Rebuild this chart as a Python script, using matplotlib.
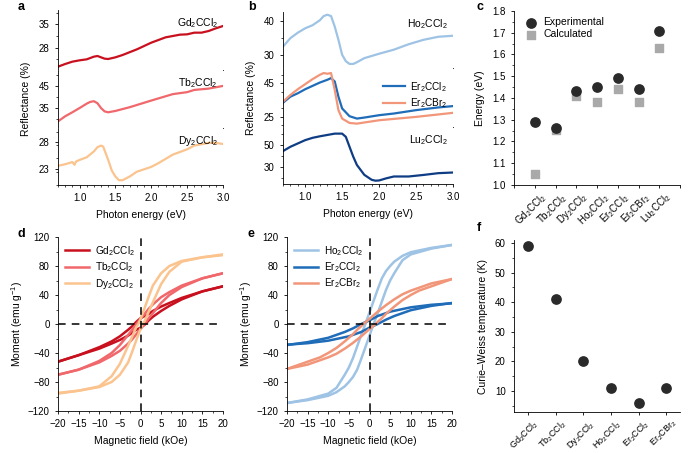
import matplotlib
matplotlib.use("Agg")
import matplotlib.pyplot as plt
import matplotlib.transforms as mtransforms
from matplotlib.ticker import MultipleLocator

plt.rcParams['font.family'] = ['Liberation Sans', 'DejaVu Sans']
plt.rcParams['mathtext.default'] = 'regular'
plt.rcParams['font.size'] = 7
plt.rcParams['axes.linewidth'] = 0.6
plt.rcParams['xtick.major.width'] = 0.6
plt.rcParams['ytick.major.width'] = 0.6
plt.rcParams['xtick.minor.width'] = 0.5
plt.rcParams['ytick.minor.width'] = 0.5
plt.rcParams['xtick.major.size'] = 2.5
plt.rcParams['ytick.major.size'] = 2.5
plt.rcParams['xtick.minor.size'] = 1.5
plt.rcParams['ytick.minor.size'] = 1.5
plt.rcParams['xtick.labelsize'] = 7
plt.rcParams['ytick.labelsize'] = 7

# ---- panel a: reflectance
gd_e = [0.7, 0.8, 0.9, 1.0, 1.1, 1.2, 1.25, 1.3, 1.35, 1.4, 1.5, 1.6, 1.8, 2.0, 2.2, 2.4, 2.5, 2.6, 2.7, 2.8, 2.9, 3.0]
gd_r = [22.3, 23.1, 23.8, 24.2, 24.5, 25.3, 25.5, 25.1, 24.7, 24.6, 25.1, 25.8, 27.5, 29.5, 31.1, 31.9, 32.0, 32.5, 32.5, 33.0, 33.8, 34.5]
tb_e = [0.7, 0.8, 0.9, 1.0, 1.1, 1.15, 1.2, 1.25, 1.3, 1.35, 1.4, 1.5, 1.7, 2.0, 2.3, 2.5, 2.6, 2.8, 3.0]
tb_r = [29.0, 31.3, 33.1, 35.0, 37.0, 37.8, 38.1, 37.2, 35.0, 33.5, 33.1, 33.7, 35.4, 38.4, 41.3, 42.2, 43.2, 43.8, 45.0]
dy_e = [0.7, 0.8, 0.9, 0.93, 0.95, 1.0, 1.1, 1.2, 1.25, 1.3, 1.33, 1.4, 1.45, 1.5, 1.55, 1.6, 1.7, 1.8, 2.0, 2.1, 2.3, 2.5, 2.6, 2.8, 2.9, 3.0]
dy_r = [23.6, 23.9, 24.3, 23.8, 24.4, 24.7, 25.2, 26.3, 27.1, 27.4, 27.2, 24.7, 22.7, 21.6, 20.9, 20.9, 21.6, 22.5, 23.4, 24.1, 25.7, 26.7, 27.4, 27.9, 27.9, 27.7]

# ---- panel b: reflectance
ho_e = [0.7, 0.8, 0.9, 1.0, 1.1, 1.2, 1.25, 1.3, 1.35, 1.4, 1.45, 1.5, 1.55, 1.6, 1.65, 1.7, 1.8, 2.0, 2.2, 2.4, 2.6, 2.8, 3.0]
ho_r = [32.4, 34.9, 36.5, 37.8, 38.7, 40.2, 41.4, 41.8, 41.4, 38.3, 34.4, 30.0, 28.1, 27.3, 27.3, 27.8, 29.0, 30.3, 31.5, 33.1, 34.4, 35.3, 35.6]
ercl_e = [0.7, 0.8, 0.9, 1.0, 1.1, 1.2, 1.3, 1.35, 1.4, 1.45, 1.5, 1.6, 1.7, 1.8, 2.0, 2.2, 2.5, 2.8, 3.0]
ercl_r = [33.4, 37.0, 39.0, 41.4, 43.4, 45.4, 47.0, 48.0, 46.0, 37.0, 30.0, 25.4, 24.0, 24.6, 26.0, 27.0, 29.0, 30.6, 31.4]
erbr_e = [0.7, 0.8, 0.9, 1.0, 1.1, 1.2, 1.25, 1.3, 1.35, 1.4, 1.45, 1.5, 1.6, 1.7, 2.0, 2.5, 3.0]
erbr_r = [34.0, 38.0, 41.4, 44.4, 47.4, 50.0, 51.0, 50.6, 51.0, 41.0, 29.0, 24.0, 21.4, 21.0, 23.0, 25.0, 27.4]
lu_e = [0.7, 0.8, 0.9, 1.0, 1.1, 1.2, 1.3, 1.4, 1.5, 1.55, 1.6, 1.65, 1.7, 1.8, 1.9, 1.95, 2.0, 2.1, 2.2, 2.4, 2.6, 2.8, 3.0]
lu_r = [44.6, 48.5, 51.5, 54.5, 56.6, 58.0, 59.2, 60.4, 60.4, 57.5, 48.5, 39.6, 32.0, 23.1, 18.6, 17.8, 18.0, 20.0, 21.6, 21.6, 23.0, 24.6, 25.2]

# ---- panel c: band gaps
gap_names = [r'Gd$_2$CCl$_2$', r'Tb$_2$CCl$_2$', r'Dy$_2$CCl$_2$', r'Ho$_2$CCl$_2$',
             r'Er$_2$CCl$_2$', r'Er$_2$CBr$_2$', r'Lu$_2$CCl$_2$']
gap_exp = [1.29, 1.26, 1.43, 1.45, 1.49, 1.44, 1.71]
gap_calc = [1.05, 1.255, 1.41, 1.38, 1.44, 1.38, 1.63]

# ---- panels d, e: M(H) loops (down = field sweep from +20, up = from -20)
gd_h_down = [20, 15, 10, 7, 5, 3, 2, 1, 0, -1, -2, -3, -5, -7, -10, -15, -20]
gd_m_down = [52, 45, 36, 29, 24, 18, 14, 11, 8, 3, -3, -8, -17, -24, -32, -43, -52]
gd_h_up = [-20, -15, -10, -7, -5, -3, -2, -1, 0, 1, 2, 3, 5, 7, 10, 15, 20]
gd_m_up = [-52, -43, -34, -27, -22, -16, -12, -8, -5, -1, 5, 10, 18, 25, 34, 45, 52]

tb_h_down = [20, 15, 10, 7, 5, 3, 2, 1, 0, -1, -2, -3, -5, -7, -10, -15, -20]
tb_m_down = [70, 63, 53, 44, 37, 27, 21, 14, 7, 0, -8, -15, -29, -40, -51, -63, -70]
tb_h_up = [-20, -15, -10, -7, -5, -3, -2, -1, 0, 1, 2, 3, 5, 7, 10, 15, 20]
tb_m_up = [-70, -63, -53, -44, -37, -27, -21, -14, -7, 0, 8, 15, 29, 40, 51, 63, 70]

dy_h_down = [20, 15, 10, 7, 5, 3, 2, 1, 0, -0.5, -1, -2, -3, -5, -7, -10, -15, -20]
dy_m_down = [95, 92, 87, 80, 70, 53, 38, 22, 7, 0, -4, -17, -30, -55, -72, -86, -92, -96]
dy_h_up = [-20, -15, -10, -7, -5, -3, -2, -1, 0, 0.5, 1, 2, 3, 5, 7, 10, 15, 20]
dy_m_up = [-95, -92, -87, -80, -70, -53, -38, -22, -7, 0, 4, 17, 30, 55, 72, 86, 92, 96]

ho_h_down = [20, 15, 10, 8, 6, 5, 4, 3, 2, 1, 0, -1, -2, -3, -4, -5, -6, -8, -10, -15, -20]
ho_m_down = [109, 105, 99, 94, 86, 80, 73, 63, 48, 32, 16, 0, -15, -31, -47, -60, -70, -88, -96, -104, -109]
ho_h_up = [-20, -15, -10, -8, -6, -5, -4, -3, -2, -1, 0, 1, 2, 3, 4, 5, 6, 8, 10, 15, 20]
ho_m_up = [-109, -105, -99, -94, -86, -80, -73, -63, -48, -32, -16, 0, 15, 31, 47, 60, 70, 88, 96, 104, 109]

ercl_h_down = [20, 15, 10, 5, 2, 0, -2, -4, -6, -10, -15, -20]
ercl_m_down = [28.5, 26.5, 23, 17, 11, 5, 0, -6, -11, -19, -25, -29]
ercl_h_up = [-20, -15, -10, -5, -2, 0, 2, 4, 6, 10, 15, 20]
ercl_m_up = [-28.5, -26.5, -23, -17, -11, -5, 0, 6, 11, 19, 25, 29]

erbr_h_down = [20, 15, 12, 10, 8, 6, 4, 2, 1, 0, -1.5, -2, -3, -4, -6, -8, -10, -12, -15, -20]
erbr_m_down = [62, 56, 50, 46, 41, 34, 26, 17, 12, 7, 0, -3, -8, -14, -24, -33, -40, -46, -52, -62]
erbr_h_up = [-20, -15, -12, -10, -8, -6, -4, -2, -1, 0, 1.5, 2, 3, 4, 6, 8, 10, 12, 15, 20]
erbr_m_up = [-62, -56, -50, -46, -41, -34, -26, -17, -12, -7, 0, 3, 8, 14, 24, 33, 40, 46, 52, 62]

# ---- panel f: Curie-Weiss temperature
cw_names = gap_names[:6]
cw_temp = [59, 41, 20, 11, 6, 11]

c_gd, c_tb, c_dy = '#c8101e', '#f0686c', '#fbc48e'
c_ho, c_ercl, c_erbr, c_lu = '#9ec3e4', '#1f6cb8', '#f2967a', '#0f3d84'
c_exp, c_calc = '#2a2a2a', '#a9a9a9'

W, H = 700, 453
fig = plt.figure(figsize=(7, 4.53), dpi=100)


def px_axes(x0, y0, x1, y1):
    return fig.add_axes([x0 / W, 1 - y1 / H, (x1 - x0) / W, (y1 - y0) / H])


def strip(ax, bottom=False):
    ax.spines['top'].set_visible(False)
    ax.spines['right'].set_visible(False)
    ax.set_xlim(0.7, 3.0)
    ax.xaxis.set_major_locator(MultipleLocator(0.5))
    ax.xaxis.set_minor_locator(MultipleLocator(0.1))
    if not bottom:
        ax.tick_params(axis='x', which='both', bottom=False, labelbottom=False)


def add_label(ax, text):
    ax.text(0.97, 0.9, text, transform=ax.transAxes, ha='right', va='top', fontsize=7.5)


def slant_labels(ax, names, size=7):
    ax.tick_params(axis='x', pad=1.5)
    ax.set_xticklabels(names, rotation=45, ha='right', rotation_mode='anchor', fontsize=size)
    shift = mtransforms.ScaledTranslation(0.05, 0.0, fig.dpi_scale_trans)
    for lab in ax.get_xticklabels():
        lab.set_transform(lab.get_transform() + shift)


# panel a
a_rows = [(10, 70), (70, 128), (128, 185)]
a_data = [(gd_e, gd_r, c_gd, r'Gd$_2$CCl$_2$', (21.3, 39.3), 7),
          (tb_e, tb_r, c_tb, r'Tb$_2$CCl$_2$', (26.0, 52.2), 10),
          (dy_e, dy_r, c_dy, r'Dy$_2$CCl$_2$', (20.0, 30.7), 5)]
a_ticks = [[28, 35], [35, 45], [23, 28]]
for i, ((y0, y1), (xe, yr, col, name, lim, step)) in enumerate(zip(a_rows, a_data)):
    ax = px_axes(58, y0, 223, y1)
    ax.plot(xe, yr, color=col, lw=1.6)
    ax.set_ylim(*lim)
    ax.set_yticks(a_ticks[i])
    ax.yaxis.set_minor_locator(MultipleLocator(step / 2))
    strip(ax, bottom=(i == 2))
    add_label(ax, name)
    if i == 1:
        ax.set_ylabel('Reflectance (%)', fontsize=7.5, labelpad=6)
    if i == 2:
        ax.set_xlabel('Photon energy (eV)', fontsize=7.5, labelpad=5)

# panel b
ax = px_axes(283, 12, 453, 68)
ax.plot(ho_e, ho_r, color=c_ho, lw=1.6)
ax.set_ylim(26.1, 42.6)
ax.set_yticks([30, 40])
ax.yaxis.set_minor_locator(MultipleLocator(5))
strip(ax)
add_label(ax, r'Ho$_2$CCl$_2$')

ax = px_axes(283, 68, 453, 127)
ax.plot(ercl_e, ercl_r, color=c_ercl, lw=1.6, label=r'Er$_2$CCl$_2$')
ax.plot(erbr_e, erbr_r, color=c_erbr, lw=1.6, label=r'Er$_2$CBr$_2$')
ax.set_ylim(19, 54)
ax.set_yticks([25, 45])
ax.yaxis.set_minor_locator(MultipleLocator(10))
strip(ax)
ax.set_ylabel('Reflectance (%)', fontsize=7.5, labelpad=6)
ax.legend(loc='upper right', frameon=False, fontsize=7.2, handlelength=2.2,
          handletextpad=0.5, borderaxespad=0.2, labelspacing=0.3, bbox_to_anchor=(1.0, 0.9))

ax = px_axes(283, 127, 453, 184)
ax.plot(lu_e, lu_r, color=c_lu, lw=1.6)
ax.set_ylim(14.8, 66.4)
ax.set_yticks([30, 50])
ax.yaxis.set_minor_locator(MultipleLocator(10))
strip(ax, bottom=True)
add_label(ax, r'Lu$_2$CCl$_2$')
ax.set_xlabel('Photon energy (eV)', fontsize=7.5, labelpad=5)

# panel c
ax = px_axes(514, 11, 680, 185)
pos = list(range(len(gap_names)))
ax.scatter(pos, gap_calc, marker='s', s=40, color=c_calc, label='Calculated', zorder=2)
ax.scatter(pos, gap_exp, marker='o', s=45, color=c_exp, label='Experimental', zorder=3)
ax.set_xlim(-1, 7)
ax.set_ylim(1.0, 1.8)
ax.set_xticks(range(-1, 8))
slant_labels(ax, [''] + gap_names + [''])
ax.yaxis.set_major_locator(MultipleLocator(0.1))
ax.yaxis.set_minor_locator(MultipleLocator(0.05))
ax.spines['top'].set_visible(False)
ax.spines['right'].set_visible(False)
ax.set_ylabel('Energy (eV)', fontsize=7.5, labelpad=5)
hh, ll = ax.get_legend_handles_labels()
ax.legend(hh[::-1], ll[::-1], loc='upper left', frameon=False, fontsize=7.5,
          handletextpad=0.2, labelspacing=0.2, borderaxespad=0.2, bbox_to_anchor=(0.0, 1.0))


# panels d and e
def loop_axes(ax, series):
    for hd, md, hu, mu, col, name in series:
        ax.plot(hd, md, color=col, lw=1.8, label=name)
        ax.plot(hu, mu, color=col, lw=1.8)
    ax.axhline(0, color='black', lw=1.1, ls=(0, (5, 4)), zorder=5)
    ax.axvline(0, color='black', lw=1.1, ls=(0, (5, 4)), zorder=5)
    ax.set_xlim(-20, 20)
    ax.set_ylim(-120, 120)
    ax.xaxis.set_major_locator(MultipleLocator(5))
    ax.xaxis.set_minor_locator(MultipleLocator(2.5))
    ax.yaxis.set_major_locator(MultipleLocator(40))
    ax.yaxis.set_minor_locator(MultipleLocator(20))
    ax.spines['top'].set_visible(False)
    ax.spines['right'].set_visible(False)
    ax.set_xlabel('Magnetic field (kOe)', fontsize=7.5, labelpad=5)
    ax.set_ylabel('Moment (emu g$^{-1}$)', fontsize=7.5, labelpad=2)
    ax.legend(loc='upper left', frameon=False, fontsize=7.2, handlelength=2.4,
              handletextpad=0.6, labelspacing=0.25, borderaxespad=0.3)


ax = px_axes(58, 237, 223, 411)
loop_axes(ax, [(gd_h_down, gd_m_down, gd_h_up, gd_m_up, c_gd, r'Gd$_2$CCl$_2$'),
               (tb_h_down, tb_m_down, tb_h_up, tb_m_up, c_tb, r'Tb$_2$CCl$_2$'),
               (dy_h_down, dy_m_down, dy_h_up, dy_m_up, c_dy, r'Dy$_2$CCl$_2$')])

ax = px_axes(287, 237, 452, 411)
loop_axes(ax, [(ho_h_down, ho_m_down, ho_h_up, ho_m_up, c_ho, r'Ho$_2$CCl$_2$'),
               (ercl_h_down, ercl_m_down, ercl_h_up, ercl_m_up, c_ercl, r'Er$_2$CCl$_2$'),
               (erbr_h_down, erbr_m_down, erbr_h_up, erbr_m_up, c_erbr, r'Er$_2$CBr$_2$')])

# panel f
ax = px_axes(514, 240, 680, 412)
ax.scatter(range(len(cw_names)), cw_temp, marker='o', s=45, color=c_exp, zorder=3)
ax.set_xlim(-0.5, 5.5)
ax.set_ylim(2.9, 61)
ax.set_xticks(range(len(cw_names)))
slant_labels(ax, cw_names, size=6.5)
ax.yaxis.set_major_locator(MultipleLocator(10))
ax.yaxis.set_minor_locator(MultipleLocator(5))
ax.spines['top'].set_visible(False)
ax.spines['right'].set_visible(False)
ax.set_ylabel('Curie\u2013Weiss temperature (K)', fontsize=7.5, labelpad=5)

# panel letters
for letter, x, y in [('a', 18, 7), ('b', 248, 7), ('c', 476, 7),
                     ('d', 18, 234), ('e', 248, 234), ('f', 477, 228)]:
    fig.text(x / W, 1 - y / H, letter, fontsize=9, fontweight='bold', ha='left', va='center')

fig.savefig('out.png', dpi=100)
